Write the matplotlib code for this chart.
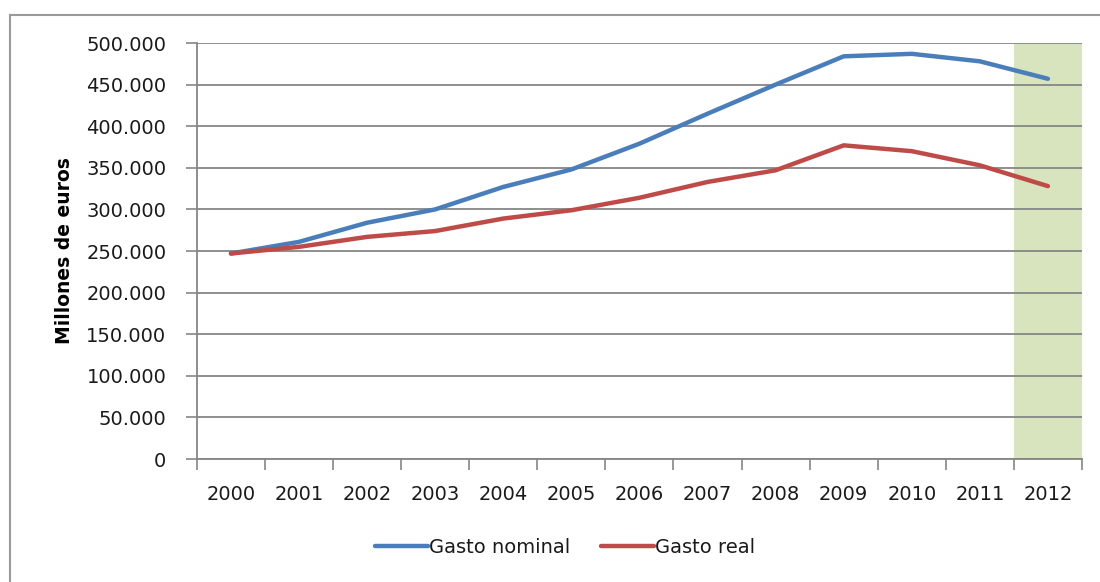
import matplotlib
matplotlib.use("Agg")
import matplotlib.pyplot as plt
from matplotlib.lines import Line2D
from matplotlib.ticker import FuncFormatter
import numpy as np

years = ["2000", "2001", "2002", "2003", "2004", "2005", "2006",
         "2007", "2008", "2009", "2010", "2011", "2012"]
gasto_nominal = [247000, 261000, 284000, 300000, 327000, 348000, 379000,
                 415000, 450000, 484000, 487000, 478000, 457000]
gasto_real = [247000, 255000, 267000, 274000, 289000, 299000, 314000,
              333000, 347000, 377000, 370000, 353000, 328000]
highlight_year = "2012"

blue = "#4a7ebb"
red = "#be4b48"
grid_col = "#868686"
text_col = "#1a1a1a"

fig = plt.figure(figsize=(11, 5.82), dpi=100)
ax = fig.add_axes([0.179, 0.2113, 0.8046, 0.7148])

x = np.arange(len(years))
hi = years.index(highlight_year)
ax.axvspan(hi - 0.5, hi + 0.5, color="#d7e4bd", zorder=0, lw=0)

ax.plot(x, gasto_nominal, color=blue, lw=3.2, label="Gasto nominal",
        solid_capstyle="round", zorder=3)
ax.plot(x, gasto_real, color=red, lw=3.2, label="Gasto real",
        solid_capstyle="round", zorder=3)

ax.set_xlim(-0.5, len(years) - 0.5)
ax.set_ylim(0, 500000)
ax.set_yticks(np.arange(0, 500001, 50000))
ax.yaxis.set_major_formatter(
    FuncFormatter(lambda v, p: f"{int(v):,}".replace(",", ".")))
ax.grid(axis="y", color=grid_col, lw=1.3, zorder=1)
ax.set_axisbelow(True)

ax.set_xticks(x)
ax.set_xticklabels(years)
ax.set_xticks(np.arange(-0.5, len(years), 1), minor=True)
ax.tick_params(axis="x", which="major", length=0, pad=19, labelsize=14,
               labelcolor=text_col)
ax.tick_params(axis="x", which="minor", length=8, color=grid_col, width=1.2)
ax.tick_params(axis="y", length=8, color=grid_col, width=1.2, pad=14,
               labelsize=14, labelcolor=text_col)

for s in ["top", "right"]:
    ax.spines[s].set_visible(False)
for s in ["left", "bottom"]:
    ax.spines[s].set_color(grid_col)
    ax.spines[s].set_linewidth(1.3)

ax.set_ylabel("Millones de euros", fontsize=13.5, fontweight="bold",
              labelpad=9)

ax.legend(loc="center", bbox_to_anchor=(0.416, -0.212), ncol=2,
          frameon=False, fontsize=14, handlelength=2.7, handletextpad=0.05,
          columnspacing=1.6, labelcolor=text_col)

# outer chart border (top and left only)
fig.add_artist(Line2D([10 / 1100, 1], [1 - 15 / 582, 1 - 15 / 582],
                      color="#9a9a9a", lw=1.5))
fig.add_artist(Line2D([10 / 1100, 10 / 1100], [0, 1 - 15 / 582],
                      color="#9a9a9a", lw=1.5))

fig.savefig("out.png", dpi=100)
